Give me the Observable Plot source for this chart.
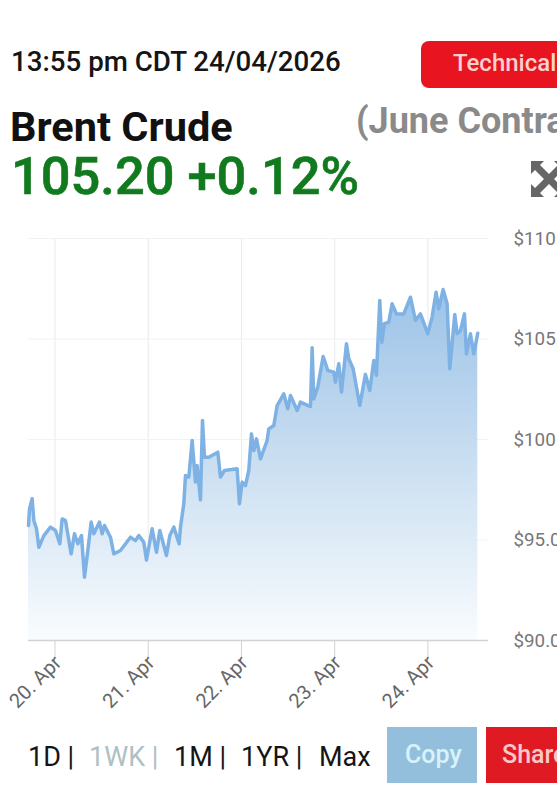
<!DOCTYPE html>
<html><head><meta charset="utf-8">
<script src="https://cdn.jsdelivr.net/npm/d3@7"></script>
<script src="https://cdn.jsdelivr.net/npm/@observablehq/plot@0.6"></script>
<style>
html,body{margin:0;padding:0;background:#fff;width:557px;height:800px;overflow:hidden;font-family:Roboto,sans-serif}
#page{position:relative;width:557px;height:800px;overflow:hidden}
#head{position:relative;height:225px}
#foot{position:relative;height:70px}
.a{position:absolute;white-space:nowrap;line-height:1}
svg{display:block}
</style></head><body><div id="page">
<div id="head">
<div class="a" style="left:11px;top:48px;font-size:27.7px;font-weight:500;color:#151515">13:55 pm CDT 24/04/2026</div>
<div class="a" style="left:421px;top:41px;width:160px;height:47px;background:#e8141f;border-radius:8px"></div>
<div class="a" style="left:453px;top:51px;font-size:24px;font-weight:500;color:#fbd0d0">Technical</div>
<div class="a" style="left:10px;top:106px;font-size:41.5px;font-weight:700;color:#111">Brent Crude</div>
<div class="a" style="left:356px;top:103px;font-size:36px;font-weight:700;color:#8a8a8a">(June Contract)</div>
<div class="a" style="left:11px;top:150px;font-size:52.4px;font-weight:500;color:#127a1e;-webkit-text-stroke:0.6px #127a1e">105.20 +0.12%</div>
<svg class="a" style="left:531px;top:161px" width="36" height="36" viewBox="0 0 36 36"><g fill="#666"><path d="M0 0H13L9 4L18 13L27 4L23 0H36V13L32 9L23 18L32 27L36 23V36H23L27 32L18 23L9 32L13 36H0V23L4 27L13 18L4 9L0 13Z"/></g></svg>
</div>
<div id="chart"></div>
<div id="foot">
<div class="a" style="left:28px;top:14px;font-size:27px;color:#151515">1D |</div>
<div class="a" style="left:89px;top:14px;font-size:27px;color:#aebfc6">1WK |</div>
<div class="a" style="left:174px;top:14px;font-size:27px;color:#151515">1M |</div>
<div class="a" style="left:241px;top:14px;font-size:27px;color:#151515">1YR |</div>
<div class="a" style="left:319px;top:14px;font-size:27px;color:#151515">Max</div>
<div class="a" style="left:387px;top:-3px;width:90px;height:56px;background:#94bfdc"></div>
<div class="a" style="left:405px;top:12px;font-size:25px;font-weight:500;color:#d8f2fa">Copy</div>
<div class="a" style="left:486px;top:-3px;width:90px;height:56px;background:#e01a22"></div>
<div class="a" style="left:502px;top:12px;font-size:25px;font-weight:500;color:#fbc8c8">Share</div>
</div>
</div>
<script>
const hours = [-6.82,-6.56,-5.88,-5.45,-4.76,-4.16,-2.87,-1.16,0.13,1.24,1.84,2.70,4.16,5.02,5.88,6.82,7.59,8.45,9.31,10.0,11.45,12.14,12.74,14.29,15.14,16.86,19.43,20.72,21.58,22.86,23.55,25.01,26.13,26.98,28.70,29.56,30.59,31.96,32.30,33.16,33.59,34.45,35.31,36.16,36.59,37.45,37.97,38.48,39.60,41.91,42.60,43.63,46.89,47.49,48.18,49.03,49.89,50.58,51.18,51.87,52.90,54.61,55.04,56.33,57.19,58.90,59.93,60.62,62.33,63.19,65.77,66.20,66.62,67.65,69.03,70.23,71.77,72.20,73.06,73.75,75.03,75.63,76.75,78.46,79.92,81.04,82.07,82.75,83.61,84.13,84.81,85.93,86.79,87.90,89.79,91.51,92.79,94.08,95.97,97.08,98.11,98.80,99.91,100.94,101.63,102.23,102.92,103.52,104.38,105.41,105.92,106.95,107.81,108.84];
const prices = [95.72,96.55,97.05,95.97,95.56,94.64,95.22,95.64,95.47,94.81,96.05,95.97,94.31,95.31,94.81,95.22,93.15,94.48,95.89,95.31,95.89,95.31,95.72,95.14,94.31,94.48,95.14,94.97,95.22,94.89,94.01,95.56,94.39,95.47,94.23,95.22,95.64,94.81,95.64,96.80,98.21,98.13,99.95,97.88,98.71,97.00,100.95,99.12,99.12,99.37,98.13,98.46,98.54,96.80,97.88,97.71,98.46,100.28,99.45,100.03,99.04,99.95,100.53,100.70,101.69,102.27,101.53,102.19,101.44,101.86,101.64,104.56,102.02,102.61,104.13,103.43,103.35,102.85,103.77,102.36,104.76,104.02,103.52,101.69,103.24,102.44,103.93,103.19,106.92,104.84,105.76,105.84,106.75,106.25,106.25,107.08,105.92,106.25,105.26,106.09,107.33,106.50,107.46,106.75,103.52,104.76,106.22,105.26,105.42,106.25,104.26,105.26,104.26,105.29];
const dayTicks = [0,24,48,72,96];
const dayLabels = ["20. Apr","21. Apr","22. Apr","23. Apr","24. Apr"];
const priceTicks = [90,95,100,105,110];
const priceLabels = ["$90.00","$95.00","$100.00","$105.00","$110.00"];
const series = hours.map((h,i)=>({h,p:prices[i]}));

const defs = () => {
  const s = d3.create("svg:defs");
  const g = s.append("linearGradient").attr("id","fillGrad").attr("x1",0).attr("y1",0).attr("x2",0).attr("y2",1);
  g.append("stop").attr("offset","0%").attr("stop-color","#9cc3e8");
  g.append("stop").attr("offset","45%").attr("stop-color","#c6dcf0");
  g.append("stop").attr("offset","100%").attr("stop-color","#f9fcfe");
  return s.node();
};

const chart = Plot.plot({
  width:557, height:505,
  marginLeft:28, marginRight:69, marginTop:13, marginBottom:90,
  style:{background:"transparent",fontFamily:"Roboto,sans-serif",fontSize:"16px",overflow:"hidden"},
  x:{domain:[-6.82,111.6]},
  y:{domain:[90,110]},
  marks:[
    defs,
    Plot.gridX(dayTicks,{stroke:"#eaeaea",strokeOpacity:1}),
    Plot.gridY(priceTicks,{stroke:"#f2f2f2",strokeOpacity:1}),
    Plot.areaY(series,{x:"h",y1:90,y2:"p",fill:"url(#fillGrad)"}),
    Plot.line(series,{x:"h",y:"p",stroke:"#7fb2e4",strokeWidth:3.5,curve:"linear"}),
    Plot.ruleY([90],{stroke:"#cfd3d6",strokeWidth:1.5}),
    Plot.axisX({ticks:dayTicks,tickSize:18,text:null,stroke:"#cfd3d6",label:null,anchor:"bottom"}),
    Plot.axisX({ticks:dayTicks,tickFormat:d=>dayLabels[dayTicks.indexOf(d)],tickSize:0,tickPadding:19,dx:3,tickRotate:-45,fill:"#666",fontSize:20,label:null,anchor:"bottom"}),
    Plot.axisY({ticks:priceTicks,tickFormat:d=>priceLabels[priceTicks.indexOf(d)],anchor:"right",tickSize:0,tickPadding:25,fill:"#777",fontSize:18.8,label:null})
  ]
});
document.getElementById("chart").appendChild(chart);
</script>
</body></html>
